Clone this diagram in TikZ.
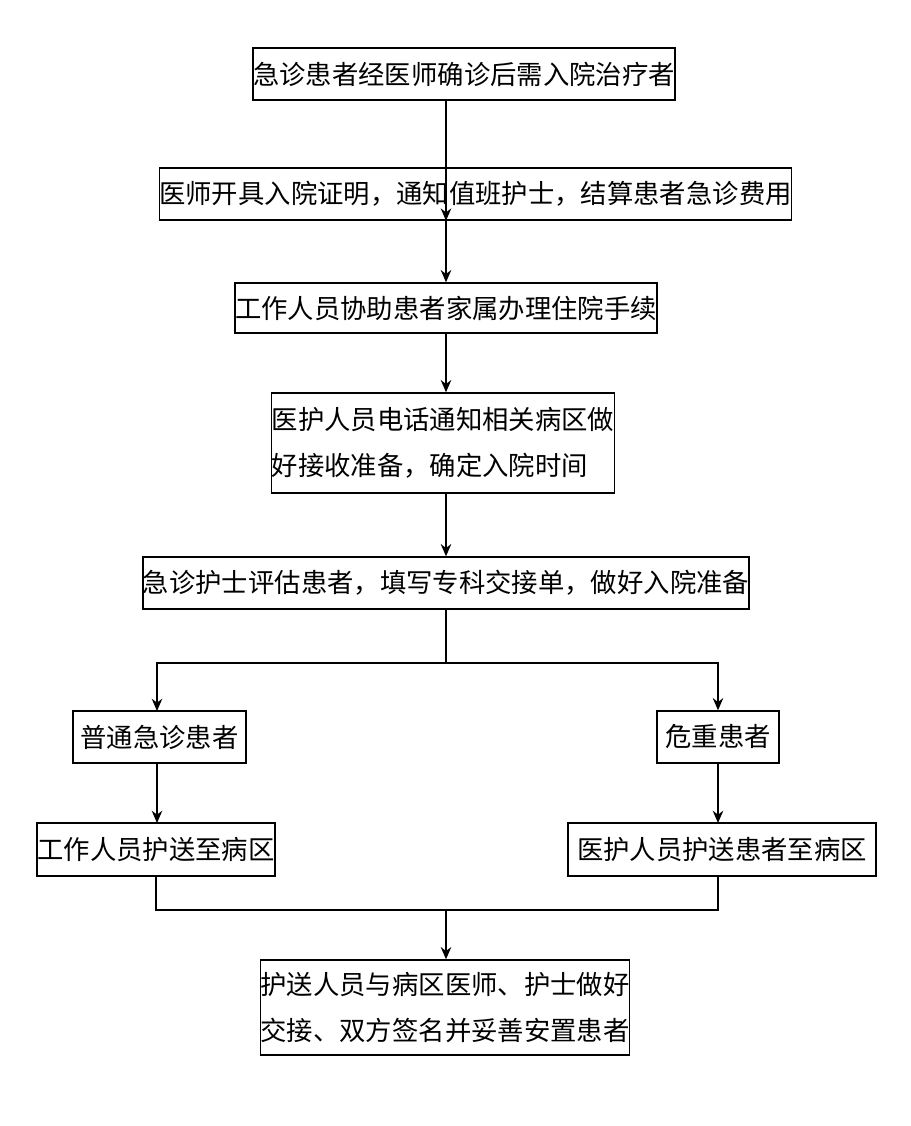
\documentclass[tikz,border=0pt]{standalone}
\usepackage{fontspec}
\setmainfont{Noto Sans CJK SC}
\usetikzlibrary{arrows.meta}
\tikzset{box/.style={draw, thick, inner sep=0pt, align=left, font=\fontsize{15}{26}\selectfont},
  arr/.style={-{Stealth[length=7pt,width=6pt]}, thick}}
\begin{document}
\begin{tikzpicture}[x=0.02cm,y=-0.02cm]
\useasboundingbox (0,0) rectangle (910,1126);
\node[box, minimum width=404*0.02cm, minimum height=52*0.02cm] (admit) at (464,74) {急诊患者经医师确诊后需入院治疗者};
\node[box, minimum width=601*0.02cm, minimum height=52*0.02cm] (cert) at (475.5,194) {医师开具入院证明，通知值班护士，结算患者急诊费用};
\node[box, minimum width=422*0.02cm, minimum height=50*0.02cm] (proc) at (446,308) {工作人员协助患者家属办理住院手续};
\node[box, minimum width=342*0.02cm, minimum height=100*0.02cm] (notify) at (443,443) {医护人员电话通知相关病区做\\好接收准备，确定入院时间};
\node[box, minimum width=576*0.02cm, minimum height=52*0.02cm] (assess) at (446,583) {急诊护士评估患者，填写专科交接单，做好入院准备};
\node[box, minimum width=173*0.02cm, minimum height=52*0.02cm] (normal) at (159.5,737) {普通急诊患者};
\node[box, minimum width=122*0.02cm, minimum height=52*0.02cm] (severe) at (718,737) {危重患者};
\node[box, minimum width=238*0.02cm, minimum height=53*0.02cm] (staff) at (156,849.5) {工作人员护送至病区};
\node[box, minimum width=308*0.02cm, minimum height=53*0.02cm] (medic) at (722,849.5) {医护人员护送患者至病区};
\node[box, minimum width=358*0.02cm, minimum height=95*0.02cm] (hand) at (445,1007.5) {护送人员与病区医师、护士做好\\交接、双方签名并妥善安置患者};
\coordinate (split) at (446,663);
\coordinate (merge) at (446,910);
\draw[arr] (admit.south -| split) -- (cert.south -| split |- cert.north);
\draw[arr] (cert.south -| split) -- (split |- proc.north);
\draw[arr] (proc.south -| split) -- (split |- notify.north);
\draw[arr] (notify.south -| split) -- (split |- assess.north);
\draw[thick] (assess.south -| split) -- (split);
\draw[arr] (split) -| (157,711);
\draw[arr] (split) -| (severe.north);
\draw[arr] (157,763) -- (157,823);
\draw[arr] (severe.south) -- (718,823);
\draw[thick] (staff.south) |- (merge) -| (718,876);
\draw[arr] (merge) -- (split |- hand.north);
\end{tikzpicture}
\end{document}
